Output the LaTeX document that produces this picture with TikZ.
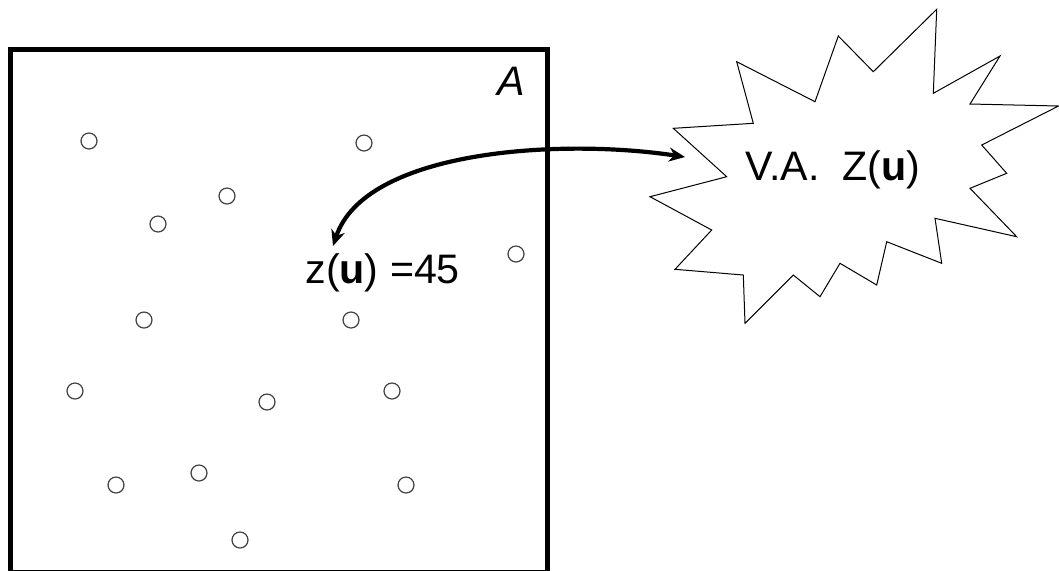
\documentclass[tikz,border=0pt]{standalone}
\usepackage{fontspec}
\setmainfont{Liberation Sans}
\usetikzlibrary{arrows.meta,shapes.geometric}
\tikzset{
  frame/.style={draw,line width=2.5pt},
  pt/.style={draw=black!75,circle,minimum size=8pt,inner sep=0pt,line width=0.6pt},
  lbl/.style={font=\fontsize{20.6}{24}\selectfont,inner sep=0pt,anchor=base west},
  burst/.style={draw,line width=0.5pt,line join=miter},
  arr/.style={{Stealth[length=8pt,width=7pt]}-{Stealth[length=8pt,width=7pt]},line width=2.1pt},
}

\begin{document}
\begin{tikzpicture}[x=0.5pt,y=-0.5pt]
 \useasboundingbox (0,0) rectangle (1059,570);
 \draw[frame] (10.5,49.5) rectangle (547.5,572);
 \node[lbl] (area) at (497,95) {\itshape A};
 \foreach \x/\y [count=\i] in {89/141,364/143,227/196,158/224,516/254,144/320,351/320,75/391,392/391,267/402,116/485,199/473,406/485,240/540}
  \node[pt] (p\i) at (\x,\y) {};
 \draw[burst] (736.7,61.7) -- (815,101.7) -- (838.3,36) -- (873.3,71.7) -- (936.7,9.3) -- (933.3,93.3) -- (1000,56) -- (970,104)
  -- (1058.5,106) -- (981.7,145) -- (1006.7,173.3) -- (970,188.3) -- (1016.7,236.7) -- (935,218.3) -- (941.7,263.3) -- (886.7,241.7)
  -- (876.7,285) -- (840,263.3) -- (820,296.7) -- (793.3,275) -- (745,323.3) -- (743.3,275) -- (675,269.3) -- (711.7,230)
  -- (650,196.7) -- (726.7,176.7) -- (673.3,128.3) -- (753.3,123.3) -- cycle;
 \node[lbl] (va) at (745,180) {V.A.\hspace{0.55em}Z(\textbf{u})};
 \node[lbl] (zval) at (305,283) {z(\textbf{u}) =45};
 \coordinate (zend) at (333,246);
 \coordinate (vaend) at (685,157);
 \draw[arr] (zend) .. controls (365,150) and (560,138) .. (vaend);
\end{tikzpicture}
\end{document}
